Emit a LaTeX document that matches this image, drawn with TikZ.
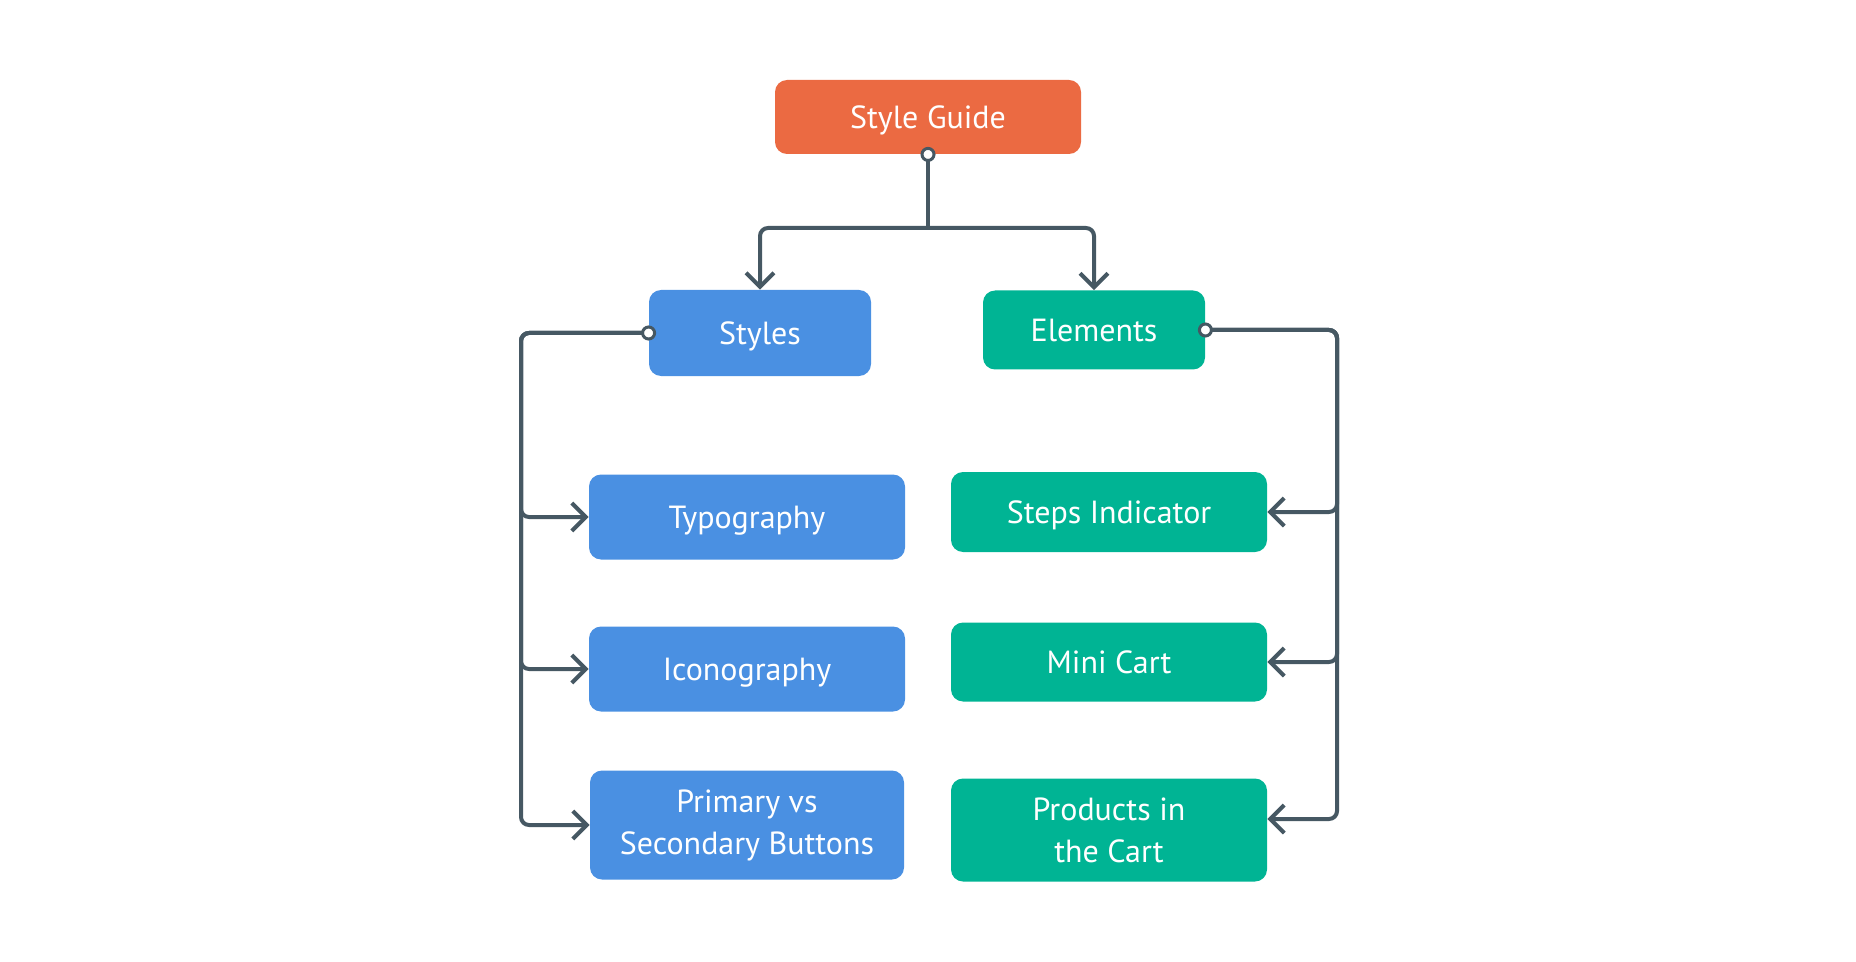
\documentclass[tikz,border=0pt]{standalone}
\usepackage{fontspec}
\setmainfont{PT Sans}
\usetikzlibrary{arrows.meta}

\definecolor{guideorange}{HTML}{EB6A42}
\definecolor{styleblue}{HTML}{4A90E2}
\definecolor{elemgreen}{HTML}{00B494}
\definecolor{linkgray}{HTML}{465863}

\tikzset{
	box/.style={rounded corners=6pt, text=white, align=center, font=\fontsize{16}{21}\selectfont, inner sep=0pt},
	oneline/.style={text depth=0pt},
	stem/.style={draw=linkgray, line width=2pt},
	link/.style={stem, rounded corners=4pt, -{Straight Barb[length=7pt,width=14pt]}},
	port/.style={circle, draw=linkgray, fill=white, line width=1.5pt, inner sep=0pt, minimum size=6pt}
}

\begin{document}
\begin{tikzpicture}[x=0.5pt, y=-0.5pt]
		\useasboundingbox (0,0) rectangle (1856,962);
		
		% Top
		\node[box, oneline, fill=guideorange, minimum width=153pt, minimum height=37pt] (guide) at (928,117) {Style Guide};
		
		% Second row
		\node[box, oneline, fill=styleblue, minimum width=111pt, minimum height=43pt] (styles) at (760,333) {Styles};
		\node[box, oneline, fill=elemgreen, minimum width=111pt, minimum height=39.5pt] (elements) at (1094,330) {Elements};
		
		% Styles children
		\node[box, oneline, fill=styleblue, minimum width=158pt, minimum height=42.5pt] (typo) at (747,517) {Typography};
		\node[box, oneline, fill=styleblue, minimum width=158pt, minimum height=42.5pt] (icons) at (747,669) {Iconography};
		\node[box, fill=styleblue, minimum width=157pt, minimum height=54.5pt] (buttons) at (747,825) {Primary vs\\Secondary Buttons};
		
		% Elements children
		\node[box, oneline, fill=elemgreen, minimum width=158pt, minimum height=40pt] (steps) at (1109,512) {Steps Indicator};
		\node[box, oneline, fill=elemgreen, minimum width=158pt, minimum height=39.5pt] (cart) at (1109,662) {Mini Cart};
		\node[box, fill=elemgreen, minimum width=158pt, minimum height=51.5pt] (products) at (1109,830) {Products in\\the Cart};
		
		% Connectors
		\coordinate (split) at (928,228);
		\coordinate (lbus) at (521,333);
		\coordinate (rbus) at (1337,330);
		\draw[stem] (guide.south) -- (split);
		\draw[link] (split) -| (styles.north);
		\draw[link] (split) -| (elements.north);
		\foreach \n in {typo,icons,buttons} {
			\draw[link] (styles.west) -- (lbus) |- (\n.west);
		}
		\draw[link] (elements.east) -- (rbus) |- (steps.east);
		\draw[link] (elements.east) -- (rbus) |- (cart.east);
		\draw[link] (elements.east) -- (rbus) |- ([yshift=5.5pt]products.east);
		
		% Ports
		\node[port] (p1) at (guide.south) {};
		\node[port] (p2) at (styles.west) {};
		\node[port] (p3) at (elements.east) {};
	\end{tikzpicture}
\end{document}
